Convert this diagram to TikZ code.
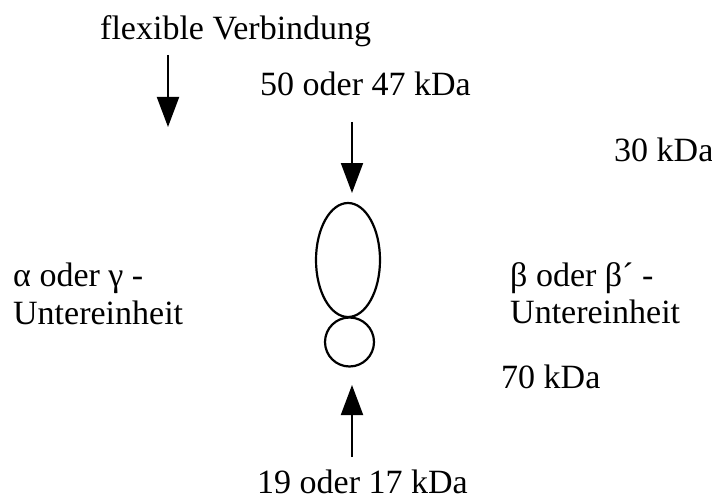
\documentclass[tikz,border=0pt]{standalone}
\usepackage{fontspec}
\setmainfont{Liberation Serif}
\usetikzlibrary{arrows.meta}
\tikzset{
  lbl/.style={inner sep=0pt, anchor=base west, font=\fontsize{34}{38}\selectfont},
  ptr/.style={line width=2pt, -{Triangle[length=30pt,width=22pt]}},
  unit/.style={line width=2.2pt}
}
\begin{document}
\begin{tikzpicture}[x=1pt,y=-1pt]
\useasboundingbox (0,0) rectangle (712,500);
% labels
\node[lbl] (flex) at (100,40) {flexible Verbindung};
\node[lbl] (top) at (260,96) {50 oder 47 kDa};
\node[lbl] (k30) at (614,161) {30 kDa};
\node[lbl] (alpha) at (13,286) {α oder γ -};
\node[lbl] (alphau) at (13,324) {Untereinheit};
\node[lbl] (beta) at (510,286) {β oder β´ -};
\node[lbl] (betau) at (510,323) {Untereinheit};
\node[lbl] (k70) at (501,388) {70 kDa};
\node[lbl] (bot) at (257,493) {19 oder 17 kDa};
% subunits
\draw[unit] (348,260) ellipse [x radius=32, y radius=57];
\draw[unit] (349.5,342) circle [radius=24.5];
% pointers
\coordinate (f1) at (168,55);
\coordinate (f2) at (168,127);
\coordinate (t1) at (352,122);
\coordinate (t2) at (352,193);
\coordinate (b1) at (352,457);
\coordinate (b2) at (352,385);
\draw[ptr] (f1) -- (f2);
\draw[ptr] (t1) -- (t2);
\draw[ptr] (b1) -- (b2);
\end{tikzpicture}
\end{document}
